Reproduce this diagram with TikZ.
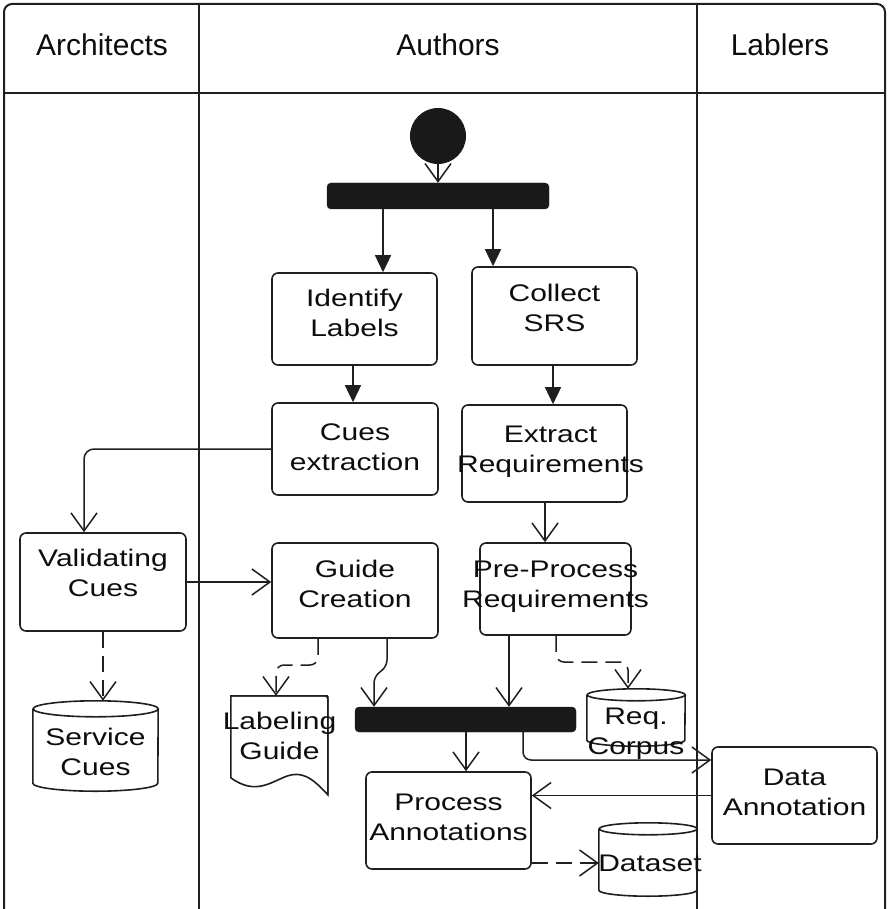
\documentclass[tikz,border=0pt]{standalone}
\usepackage{fontspec}
\setmainfont{Liberation Sans}
\newfontfamily\boxfont[FakeStretch=1.25]{Liberation Sans}
\usetikzlibrary{arrows.meta}
\newcommand\cylshape[3]{\draw[boxline] ([yshift=-#3pt]#1.north west) -- ([yshift=#3pt]#1.south west) arc[start angle=180,end angle=360,x radius=#2pt,y radius=#3pt] -- ([yshift=-#3pt]#1.north east) arc[start angle=0,end angle=180,x radius=#2pt,y radius=#3pt] arc[start angle=180,end angle=360,x radius=#2pt,y radius=#3pt];}
\begin{document}
\begin{tikzpicture}[x=1pt,y=-1pt,
  ink/.style={draw=black!88},
  boxline/.style={ink, line width=1.6pt},
  act/.style={boxline, rounded corners=6pt, inner sep=0pt},
  shapebox/.style={draw=none, inner sep=0pt},
  txt/.style={font=\boxfont\fontsize{24}{30}\selectfont, align=center, text=black!95, inner sep=0pt},
  hdr/.style={font=\fontsize{30}{36}\selectfont, text=black!95},
  lane/.style={ink, line width=2pt},
  bar/.style={fill=black!90, draw=black!90, rounded corners=4pt, inner sep=0pt},
  con/.style={ink, line width=1.5pt},
  open/.style={con, -{Straight Barb[length=18pt,width=26pt,line width=1.5pt]}},
  tri/.style={con, -{Triangle[length=17pt,width=16pt]}},
  dsh/.style={open, dash pattern=on 16pt off 8pt},
]
\useasboundingbox (0,0) rectangle (888,909);
\clip (0,0) rectangle (888,909);

% swimlane frame
\draw[lane, rounded corners=8pt] (4,950) -- (4,4) -- (885,4) -- (885,950);
\draw[lane] (4,93) -- (885,93);
\draw[lane] (199,4) -- (199,950);
\draw[lane] (697,4) -- (697,950);
\node[hdr] (hA) at (102,45) {Architects};
\node[hdr] (hB) at (448,45) {Authors};
\node[hdr] (hC) at (780,45) {Lablers};

% start and bars
\node[circle, fill=black!90, minimum size=56pt, inner sep=0pt] (start) at (438,136) {};
\node[bar, minimum width=222pt, minimum height=26pt] (fork) at (438,196) {};
\node[bar, minimum width=221pt, minimum height=25pt] (join) at (465.5,719.5) {};

% activities
\node[act, minimum width=165pt, minimum height=92pt] (idl) at (354.5,319) {};
\node[txt] (idlT) at ([yshift=6pt]idl.center) {Identify\\Labels};
\node[act, minimum width=165pt, minimum height=98pt] (csrs) at (554.5,316) {};
\node[txt] (csrsT) at ([yshift=8pt]csrs.center) {Collect\\SRS};
\node[act, minimum width=166pt, minimum height=92pt] (cue) at (355,449) {};
\node[txt] (cueT) at ([yshift=2pt]cue.center) {Cues\\extraction};
\node[act, minimum width=165pt, minimum height=97pt] (ext) at (544.5,453.5) {};
\node[txt] (extT) at ([xshift=6pt,yshift=2pt]ext.center) {Extract\\Requirements};
\node[act, minimum width=166pt, minimum height=98pt] (val) at (103,582) {};
\node[txt] (valT) at ([yshift=9pt]val.center) {Validating\\Cues};
\node[act, minimum width=166pt, minimum height=95pt] (gc) at (355,590.5) {};
\node[txt] (gcT) at ([yshift=7pt]gc.center) {Guide\\Creation};
\node[act, minimum width=151pt, minimum height=92pt] (pre) at (555.5,589) {};
\node[txt] (preT) at ([yshift=2pt]pre.center) {Pre-Process\\Requirements};
\node[act, minimum width=165pt, minimum height=97pt] (pa) at (448.5,820.5) {};
\node[txt] (paT) at ([yshift=3pt]pa.center) {Process\\Annotations};
\node[act, minimum width=165pt, minimum height=97pt] (da) at (794.5,795.5) {};
\node[txt] (daT) at ([yshift=3pt]da.center) {Data\\Annotation};

% data stores
\node[shapebox, minimum width=125pt, minimum height=90pt] (sc) at (95.5,746) {};
\cylshape{sc}{62.5}{8}
\node[txt] (scT) at ([yshift=-5.5pt]sc.center) {Service\\Cues};
\node[shapebox, minimum width=98pt, minimum height=57pt] (rc) at (636,717.5) {};
\cylshape{rc}{49}{6}
\node[txt] (rcT) at ([yshift=-16pt]rc.center) {Req.\\Corpus};
\node[shapebox, minimum width=98pt, minimum height=73pt] (ds) at (648,859.5) {};
\cylshape{ds}{49}{6}
\node[txt] (dsT) at ([xshift=2pt,yshift=-4pt]ds.center) {Dataset};
\node[shapebox, minimum width=97pt, minimum height=99pt] (lg) at (279.5,745.5) {};
\draw[boxline, rounded corners=3pt, shift={(lg.north west)}] (0,0) -- (97,0) -- (97,99);
\draw[boxline, shift={(lg.north west)}] (97,0) -- (97,99) .. controls (80,80) and (70,76) .. (57,80) .. controls (40,86) and (25,100) .. (0,82) -- (0,0) -- (97,0);
\node[txt] (lgT) at ([yshift=10pt]lg.center) {Labeling\\Guide};

% helper coordinates
\coordinate (xa) at (383,0);
\coordinate (xb) at (493,0);
\coordinate (xc) at (353,0);
\coordinate (xd) at (553,0);
\coordinate (xe) at (84,0);
\coordinate (xf) at (545,0);
\coordinate (xg) at (103,0);
\coordinate (xh) at (509,0);
\coordinate (xi) at (466,0);
\coordinate (p1) at (318,665);
\coordinate (p2) at (276,665);
\coordinate (p3) at (387,666);
\coordinate (p4) at (374,677);
\coordinate (p5) at (556,662);
\coordinate (p6) at (628,662);
\coordinate (p7) at (523,760);
\coordinate (p8) at (0,863);

% connectors
\draw[open] (start.south) -- (fork.north);
\draw[tri] (fork.south -| xa) -- (idl.north -| xa);
\draw[tri] (fork.south -| xb) -- (csrs.north -| xb);
\draw[tri] (idl.south -| xc) -- (cue.north -| xc);
\draw[tri] (csrs.south -| xd) -- (ext.north -| xd);
\draw[open, rounded corners=10pt] (cue.west) -| (val.north -| xe);
\draw[open] (val.east) -- (val.east -| gc.west);
\draw[open] (ext.south -| xf) -- (pre.north -| xf);
\draw[dsh] (val.south -| xg) -- (sc.north -| xg);
\draw[dsh, rounded corners=8pt] (gc.south -| p1) -- (p1) -- (p2) -- (lg.north -| p2);
\draw[open, rounded corners=6pt] (gc.south -| p3) -- (p3) -- (p4) -- (join.north -| p4);
\draw[open] (pre.south -| xh) -- (join.north -| xh);
\draw[dsh, rounded corners=8pt] (pre.south -| p5) -- (p5) -- (p6) -- (rc.north -| p6);
\draw[open] (join.south -| xi) -- (pa.north -| xi);
\draw[open, rounded corners=8pt] (join.south -| p7) |- (da.west |- p7);
\draw[open] (da.west) -- (da.west -| pa.east);
\draw[dsh] (pa.east |- p8) -- (ds.west |- p8);
\end{tikzpicture}
\end{document}
